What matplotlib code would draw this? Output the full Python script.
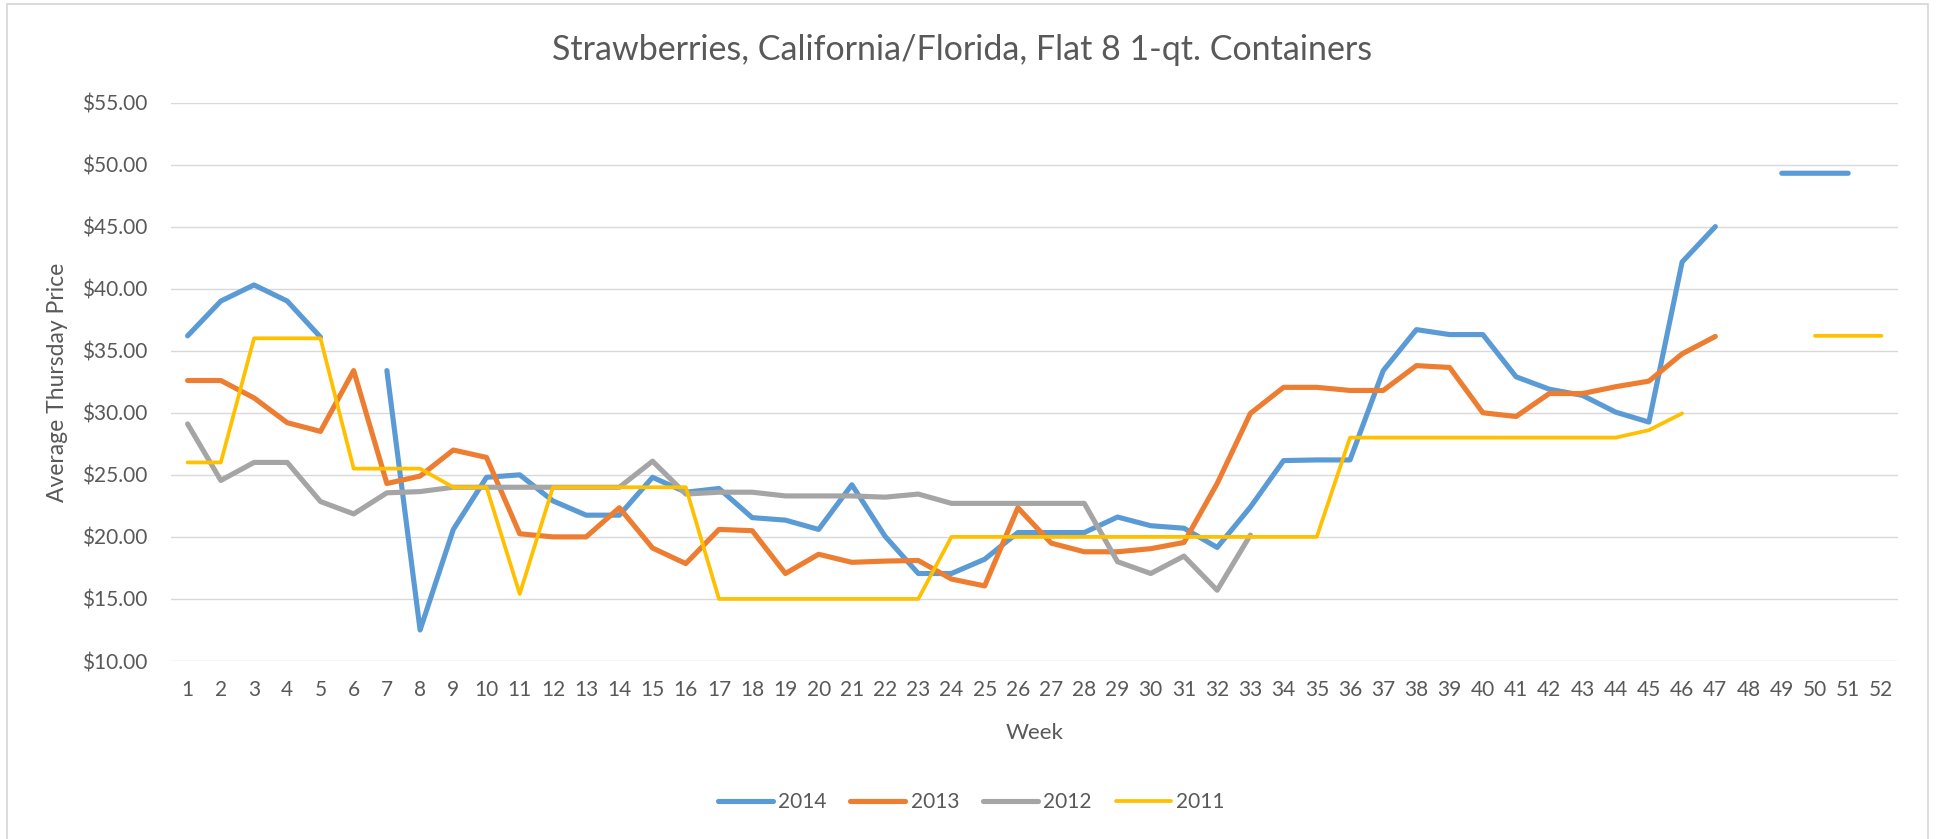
import matplotlib as mpl
import matplotlib.pyplot as plt
import numpy as np

mpl.use('Agg')

nan = np.nan
weeks = list(range(1, 53))

# weekly average Thursday price (nan = no data)
price_2014 = [36.2, 39.0, 40.3, 39.0, 36.1, nan, 33.4, 12.5, 20.6, 24.8,
              25.0, 22.9, 21.75, 21.75, 24.8, 23.6, 23.9, 21.55, 21.35, 20.6,
              24.2, 20.05, 17.05, 17.05, 18.2, 20.35, 20.35, 20.35, 21.6, 20.9,
              20.7, 19.15, 22.4, 26.15, 26.2, 26.2, 33.4, 36.7, 36.3, 36.3,
              32.9, 31.9, 31.4, 30.05, 29.25, 42.15, 45.0, nan, 49.3, 49.3,
              49.3, nan]
price_2013 = [32.6, 32.6, 31.2, 29.2, 28.5, 33.4, 24.3, 24.9, 27.0, 26.4,
              20.25, 20.0, 20.0, 22.35, 19.1, 17.85, 20.6, 20.5, 17.05, 18.6,
              17.95, 18.05, 18.1, 16.6, 16.05, 22.35, 19.5, 18.8, 18.8, 19.05,
              19.55, 24.3, 29.95, 32.05, 32.05, 31.8, 31.8, 33.8, 33.65, 30.0,
              29.7, 31.55, 31.55, 32.1, 32.55, 34.75, 36.15, nan, nan, nan,
              nan, nan]
price_2012 = [29.1, 24.55, 26.0, 26.0, 22.85, 21.85, 23.55, 23.65, 24.0, 24.0,
              24.0, 24.0, 24.0, 24.0, 26.1, 23.45, 23.6, 23.6, 23.3, 23.3,
              23.3, 23.2, 23.45, 22.7, 22.7, 22.7, 22.7, 22.7, 18.0, 17.05,
              18.45, 15.7, 20.15] + [nan] * 19
price_2011 = [26.0, 26.0, 36.0, 36.0, 36.0, 25.5, 25.5, 25.5, 24.0, 24.0,
              15.4, 24.0, 24.0, 24.0, 24.0, 24.0, 15.0, 15.0, 15.0, 15.0,
              15.0, 15.0, 15.0, 20.0, 20.0, 20.0, 20.0, 20.0, 20.0, 20.0,
              20.0, 20.0, 20.0, 20.0, 20.0, 28.0, 28.0, 28.0, 28.0, 28.0,
              28.0, 28.0, 28.0, 28.0, 28.6, 29.95, nan, nan, nan, 36.2,
              36.2, 36.2]

series = [('2014', price_2014, '#5B9BD5', 3.7),
          ('2013', price_2013, '#ED7D31', 3.7),
          ('2012', price_2012, '#A5A5A5', 3.7),
          ('2011', price_2011, '#FFC000', 2.7)]

text_color = '#595959'
grid_color = '#D9D9D9'
plt.rcParams['font.family'] = ['Lato', 'DejaVu Sans']

fig = plt.figure(figsize=(19.37, 8.39), dpi=100)
ax = fig.add_axes([171 / 1937, 1 - 661 / 839, (1898 - 171) / 1937, (661 - 102.5) / 839])

for name, vals, color, lw in series:
    ax.plot(weeks, vals, color=color, linewidth=lw, label=name,
            solid_capstyle='round', solid_joinstyle='round')

ax.set_xlim(0.5, 52.5)
ax.set_ylim(10, 55)
ax.set_xticks(weeks)
ax.set_yticks(np.arange(10, 56, 5))
ax.yaxis.set_major_formatter(mpl.ticker.FuncFormatter(lambda y, p: '${0:,.2f}'.format(y)))
ax.tick_params(axis='both', length=0, labelsize=15, colors=text_color)
ax.tick_params(axis='y', pad=17)
ax.tick_params(axis='x', pad=14)
ax.grid(axis='y', color=grid_color, linewidth=1.0)
ax.set_axisbelow(True)
for s in ax.spines.values():
    s.set_visible(False)

ax.set_xlabel('Week', fontsize=16, color=text_color, labelpad=16)
fig.text(58 / 1937, 1 - 382 / 839, 'Average Thursday Price', rotation=90,
         fontsize=16.5, color=text_color, ha='center', va='center')
fig.text(962 / 1937, 1 - 50 / 839, 'Strawberries, California/Florida, Flat 8 1-qt. Containers',
         fontsize=24.5, color=text_color, ha='center', va='center')

fig.legend(loc='center', bbox_to_anchor=(971 / 1937, 1 - 802 / 839), ncol=4,
           frameon=False, fontsize=15, handlelength=2.64, handletextpad=0.25,
           columnspacing=1.15, labelcolor=text_color)

# light chart-area border
fig.patches.append(mpl.patches.Rectangle((7.3 / 1937, -0.02), (1927.7 - 7.3) / 1937, 1.02 - 4 / 839,
                                         transform=fig.transFigure, fill=False,
                                         edgecolor=grid_color, linewidth=1.3))

fig.savefig('out.png', dpi=100, facecolor='white')
